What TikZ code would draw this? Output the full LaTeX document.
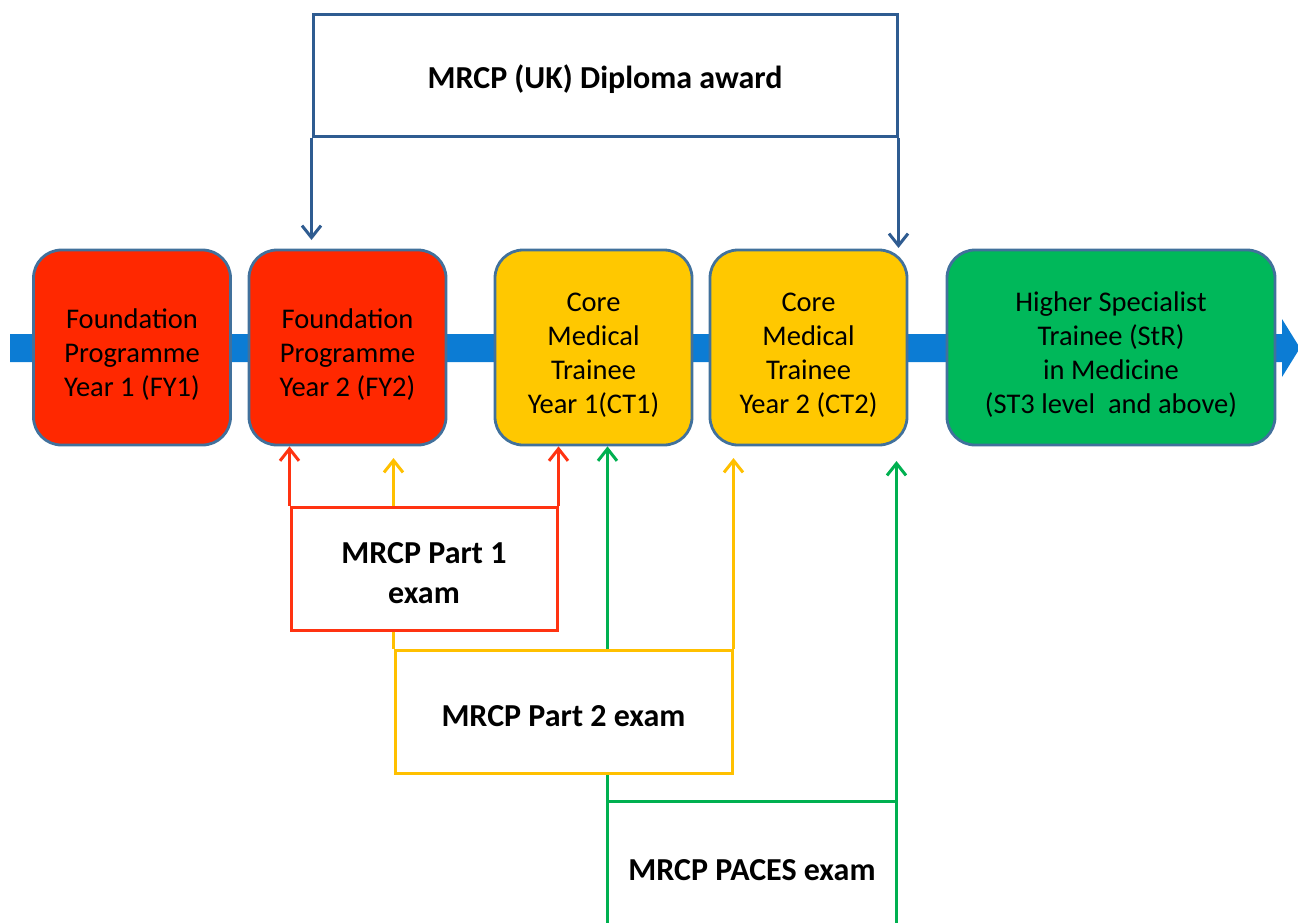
\documentclass[tikz,border=0pt]{standalone}
\usepackage{fontspec}
\setmainfont{Carlito}
\usetikzlibrary{arrows.meta}
\pgfdeclarelayer{band}
\pgfdeclarelayer{conn}
\pgfsetlayers{band,conn,main}
\definecolor{bandblue}{RGB}{12,124,212}
\definecolor{edgeblue}{RGB}{65,113,156}
\definecolor{fyred}{RGB}{255,40,0}
\definecolor{ctyellow}{RGB}{255,200,0}
\definecolor{stgreen}{RGB}{0,184,90}
\definecolor{dipblue}{RGB}{47,92,145}
\definecolor{exred}{RGB}{255,51,17}
\definecolor{exyellow}{RGB}{255,192,0}
\definecolor{exgreen}{RGB}{0,176,80}
\newcommand{\dropS}{\rule{0pt}{33pt}}
\newcommand{\dropE}{\rule{0pt}{31pt}}
\begin{document}
\begin{tikzpicture}[x=1pt,y=-1pt,
 stage/.style={draw=edgeblue,line width=2.8pt,rounded corners=28pt,minimum width=197pt,minimum height=195pt,inner sep=0pt,align=center,font=\fontsize{28.5}{34}\selectfont},
 exam/.style={fill=white,line width=3pt,inner sep=0pt,align=center,font=\fontsize{32}{40}\selectfont\bfseries},
 conn/.style={line width=3pt,-{Straight Barb[length=12pt,width=19pt]}}]
\useasboundingbox (0,0) rectangle (1298,923);
% band
\begin{pgfonlayer}{band}
\fill[bandblue] (10,334) -- (1282,334) -- (1282,319) -- (1300,348) -- (1282,377) -- (1282,362) -- (10,362) -- cycle;
\end{pgfonlayer}
% stages
\node[stage,fill=fyred] (fy1) at (132,347.5) {\dropS Foundation\\Programme\\Year 1 (FY1)};
\node[stage,fill=fyred] (fy2) at (347.5,347.5) {\dropS Foundation\\Programme\\Year 2 (FY2)};
\node[stage,fill=ctyellow] (ct1) at (593.5,347.5) {\dropS Core\\Medical\\Trainee\\Year 1(CT1)};
\node[stage,fill=ctyellow] (ct2) at (808.5,347.5) {\dropS Core\\Medical\\Trainee\\Year 2 (CT2)};
\node[stage,fill=stgreen,minimum width=328pt] (hst) at (1111,347.5) {\dropS Higher Specialist\\Trainee (StR)\\in Medicine\\(ST3 level\ \ and above)};
% exam boxes
\node[exam,draw=dipblue,minimum width=584pt,minimum height=122pt] (dip) at (605,76) {\dropE MRCP (UK) Diploma award};
\node[exam,draw=exred,minimum width=266pt,minimum height=123pt] (p1) at (424,568.5) {\dropE MRCP Part 1\\exam};
\node[exam,draw=exyellow,minimum width=337pt,minimum height=123pt] (p2) at (563.5,711.5) {\dropE MRCP Part 2 exam};
\node[exam,minimum width=286pt,minimum height=134pt] (paces) at (752,870) {MRCP PACES exam};
\coordinate (pacesbl) at (paces.north west |- 0,923);
\coordinate (pacesbr) at (paces.north east |- 0,923);
\draw[exgreen,line width=3pt] (pacesbl) -- (paces.north west) -- (paces.north east) -- (pacesbr);
% free ends
\coordinate (dipL) at (dip.south west |- 0,240);
\coordinate (dipR) at (dip.south east |- 0,248);
\coordinate (yelL) at (p2.north west |- 0,458);
\coordinate (yelR) at (p2.north east |- 0,458);
\coordinate (grnR) at (paces.north east |- 0,461);
% connectors
\begin{pgfonlayer}{conn}
\draw[conn,dipblue] (dip.south west) -- (dipL);
\draw[conn,dipblue] (dip.south east) -- (dipR);
\draw[conn,exred] (p1.north west) -- (p1.north west |- fy2.south);
\draw[conn,exred] (p1.north east) -- (p1.north east |- ct1.south);
\draw[conn,exyellow] (p2.north west) -- (yelL);
\draw[conn,exyellow] (p2.north east) -- (yelR);
\draw[conn,exgreen] (pacesbl) -- (pacesbl |- ct1.south);
\draw[conn,exgreen] (paces.north east) -- (grnR);
\end{pgfonlayer}
\end{tikzpicture}
\end{document}
